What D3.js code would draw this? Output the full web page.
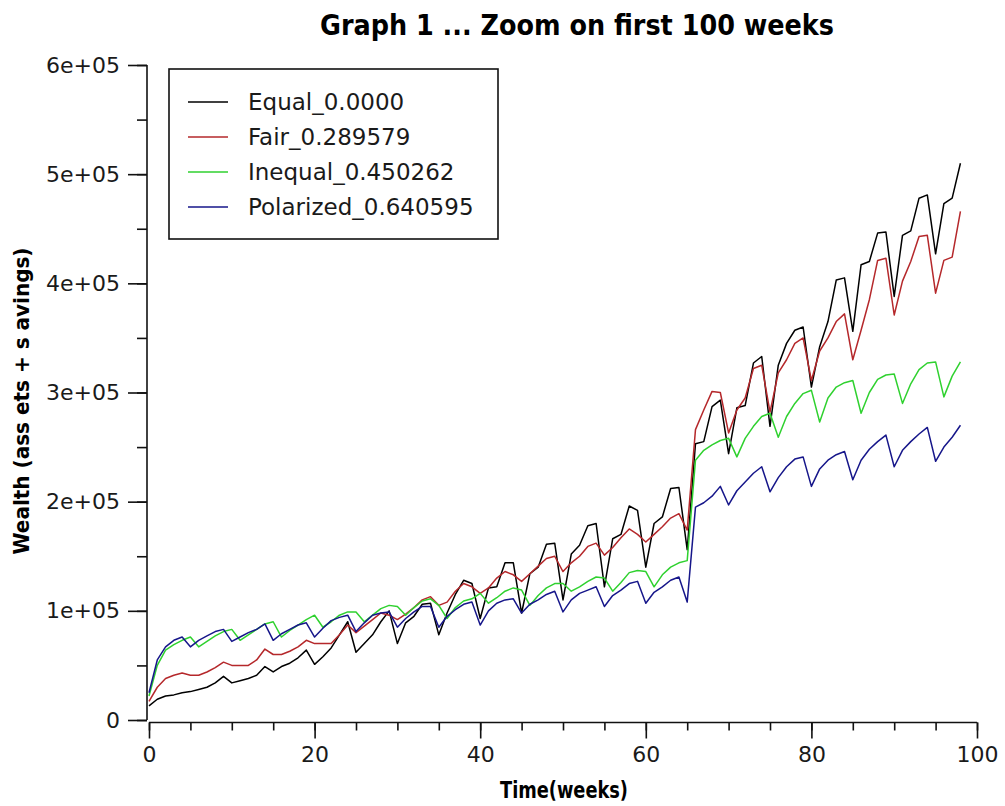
<!DOCTYPE html>
<html><head><meta charset="utf-8">
<script src="https://cdn.jsdelivr.net/npm/d3@7"></script>
<style>
html,body{margin:0;padding:0;background:#fff;}
svg{display:block;}
</style></head>
<body>
<script>
// ---- data (wealth in thousands, one value per week 0..98) ----
const weeks = d3.range(0, 99);
const seriesNames = ["Equal_0.0000", "Fair_0.289579", "Inequal_0.450262", "Polarized_0.640595"];
const seriesColors = ["#000000", "#b5282b", "#2fd12f", "#16168a"];
const equalK = [13,19,22,23,25,26,28,30,34,40,34,36,38,41,49,44,49,52,57,64,
  51,58,66,78,90,62,70,78,90,100,70,89,95,106,107,78,98,115,128,125,
  93,121,122,144,144,98,134,140,161,162,110,152,160,178,180,122,166,170,196,192,
  140,180,186,212,213,156,253,255,287,293,244,286,288,327,333,269,325,345,357,360,
  305,342,365,403,405,356,417,420,446,447,388,444,448,478,481,427,473,478,510];
const fairK = [17,30,38,41,43,41,41,44,48,53,50,50,50,55,65,60,60,63,67,73,
  70,70,70,78,87,80,86,92,98,96,92,97,103,110,113,105,108,118,125,122,
  116,121,130,136,133,127,134,141,148,150,136,144,150,159,162,151,158,167,175,170,
  163,170,177,185,189,174,266,284,301,300,263,284,295,322,325,282,318,330,345,350,
  311,338,350,365,372,330,357,385,421,423,371,402,420,443,444,391,421,424,466];
const inequalK = [22,50,64,69,73,76,67,72,77,81,83,73,78,83,88,90,76,82,87,92,
  96,85,90,96,99,99,90,96,102,105,104,96,103,109,111,105,93,103,109,111,
  116,107,112,118,121,119,105,114,121,125,125,118,122,127,131,130,118,126,135,137,
  136,122,133,140,144,146,238,247,252,256,258,241,258,269,278,281,259,278,290,299,
  302,273,295,305,309,311,281,300,312,316,317,290,308,321,327,328,296,315,328];
const polarizedK = [25,55,67,73,76,67,73,77,81,83,72,76,80,83,88,73,79,83,87,89,
  76,84,91,94,96,81,89,96,98,99,85,93,99,104,104,85,95,101,106,108,
  87,100,107,110,111,98,106,110,115,118,99,110,116,119,122,104,114,119,125,127,
  107,117,122,128,131,108,195,199,205,214,197,210,218,226,232,209,222,232,239,241,
  214,230,238,243,246,220,238,248,255,261,232,247,255,262,268,237,250,259,270];
const seriesValues = [equalK, fairK, inequalK, polarizedK];
const xTickValues = [0, 20, 40, 60, 80, 100];
const xMinorTicks = d3.range(0, 101, 5);
const yTickValues = [0, 100000, 200000, 300000, 400000, 500000, 600000];
const yTickLabels = ["0", "1e+05", "2e+05", "3e+05", "4e+05", "5e+05", "6e+05"];
const yMinorTicks = d3.range(0, 600001, 50000);
const titleText = "Graph 1 ... Zoom on first 100 weeks";
const xLabel = "Time(weeks)";
const yLabel = "Wealth (ass ets + s avings)";

// ---- layout ----
const W = 1005, H = 806;
const svg = d3.select("body").append("svg").attr("width", W).attr("height", H);
const x = d3.scaleLinear().domain([0, 100]).range([149, 977]);
const y = d3.scaleLinear().domain([0, 600000]).range([720, 65]);
const font = "DejaVu Sans, Verdana, sans-serif";
const condFont = "DejaVu Sans Condensed, DejaVu Sans, sans-serif";

// title
svg.append("text").attr("x", 577).attr("y", 35).attr("text-anchor", "middle")
  .attr("font-family", condFont).attr("font-weight", "bold").attr("font-stretch", "condensed")
  .attr("font-size", 28).attr("textLength", 514).attr("lengthAdjust", "spacingAndGlyphs")
  .text(titleText);

// y axis
const yAxisG = svg.append("g").attr("transform", "translate(147,0)");
yAxisG.call(d3.axisLeft(y).tickValues(yMinorTicks).tickSize(10).tickFormat(""));
yAxisG.call(g => g.select(".domain").remove());
const yMajor = svg.append("g").attr("transform", "translate(147,0)")
  .call(d3.axisLeft(y).tickValues(yTickValues).tickSize(19).tickPadding(8)
    .tickFormat((d, i) => yTickLabels[i]));
yMajor.select(".domain").attr("d", `M0,${y(600000)}V${y(0)}`);
yMajor.selectAll("text").attr("font-family", font).attr("font-size", 22).attr("fill", "#1a1a1a");

// x axis
const xAxisY = 722.5;
const xMinorG = svg.append("g").attr("transform", `translate(0,${xAxisY})`)
  .call(d3.axisBottom(x).tickValues(xMinorTicks).tickSize(8).tickFormat(""));
xMinorG.select(".domain").remove();
const xMajor = svg.append("g").attr("transform", `translate(0,${xAxisY})`)
  .call(d3.axisBottom(x).tickValues(xTickValues).tickSize(16).tickPadding(8).tickFormat(d3.format("d")));
xMajor.select(".domain").attr("d", `M${x(0)},0H${x(100)}`);
xMajor.selectAll("text").attr("font-family", font).attr("font-size", 22).attr("fill", "#1a1a1a");
svg.selectAll(".tick line, .domain").attr("stroke", "#111").attr("stroke-width", 1.6);

// axis titles
svg.append("text").attr("x", 564).attr("y", 798).attr("text-anchor", "middle")
  .attr("font-family", condFont).attr("font-weight", "bold").attr("font-stretch", "condensed")
  .attr("font-size", 23).attr("textLength", 128).attr("lengthAdjust", "spacingAndGlyphs")
  .text(xLabel);
svg.append("text").attr("transform", "translate(29,401) rotate(-90)").attr("text-anchor", "middle")
  .attr("font-family", font).attr("font-weight", "bold")
  .attr("font-size", 21).attr("textLength", 307).attr("lengthAdjust", "spacingAndGlyphs")
  .text(yLabel);

// lines
const line = d3.line().x((d, i) => x(weeks[i])).y(d => y(d * 1000));
const plot = svg.append("g");
seriesValues.forEach((vals, k) => {
  plot.append("path").datum(vals).attr("d", line).attr("fill", "none")
    .attr("stroke", seriesColors[k]).attr("stroke-width", 1.5).attr("stroke-linejoin", "round");
});

// legend
const lg = svg.append("g");
lg.append("rect").attr("x", 169).attr("y", 69).attr("width", 329).attr("height", 170)
  .attr("fill", "#fff").attr("stroke", "#111").attr("stroke-width", 1.6);
seriesNames.forEach((name, k) => {
  const yy = 102 + k * 35;
  lg.append("line").attr("x1", 188).attr("x2", 228).attr("y1", yy).attr("y2", yy)
    .attr("stroke", seriesColors[k]).attr("stroke-width", 1.6);
  lg.append("text").attr("x", 248).attr("y", yy).attr("dy", "0.35em")
    .attr("font-family", font).attr("font-size", 23).attr("fill", "#1a1a1a").text(name);
});
</script>
</body></html>
